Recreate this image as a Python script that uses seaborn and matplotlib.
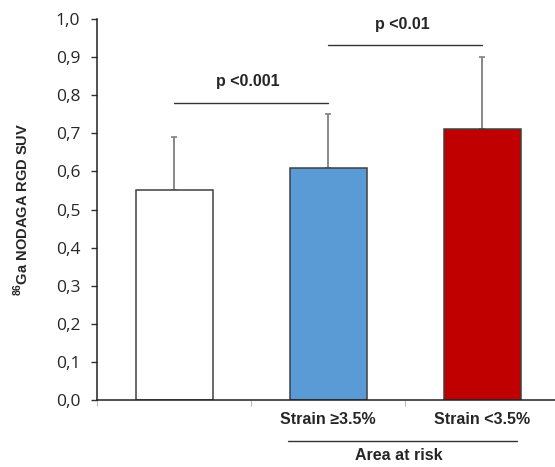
import matplotlib
matplotlib.use("Agg")
import matplotlib.pyplot as plt
import seaborn as sns
import numpy as np
import pandas as pd

# Group means and upper SD
groups = ["Remote", "Strain \u22653.5%", "Strain <3.5%"]
tick_labels = ["", "Strain \u22653.5%", "Strain <3.5%"]
suv_mean = [0.55, 0.61, 0.71]
suv_sd = [0.14, 0.14, 0.19]
bar_colors = ["#FFFFFF", "#5B9BD5", "#C00000"]
y_ticks = [0.0, 0.1, 0.2, 0.3, 0.4, 0.5, 0.6, 0.7, 0.8, 0.9, 1.0]
sig_pairs = [(0, 1, 0.78, "p <0.001"), (1, 2, 0.932, "p <0.01")]

sns.set_theme(style="ticks")
plt.rcParams["font.family"] = ["Liberation Sans", "DejaVu Sans"]
plt.rcParams["mathtext.fontset"] = "custom"
plt.rcParams["mathtext.rm"] = "Liberation Sans:bold"
plt.rcParams["mathtext.bf"] = "Liberation Sans:bold"

fig = plt.figure(figsize=(5.55, 4.67), dpi=100)
ax = fig.add_axes([97 / 555, 1 - 400 / 467, 462 / 555, 381 / 467])

df = pd.DataFrame({"group": groups, "suv": suv_mean})
sns.barplot(data=df, x="group", y="suv", hue="group", palette=bar_colors,
            order=groups, hue_order=groups, legend=False, errorbar=None,
            saturation=1, width=0.5, edgecolor="#404040", linewidth=1.1,
            ax=ax, zorder=2)

x = np.arange(len(groups))
ax.errorbar(x, suv_mean, yerr=[np.zeros(len(groups)), suv_sd], fmt="none",
            ecolor="#808080", elinewidth=1.3, capsize=2.5, capthick=1.2, zorder=1)

ax.set_xlim(-0.5, 2.5)
ax.set_ylim(0, 1.0)
ax.set_yticks(y_ticks)
ax.set_yticklabels([f"{v:.1f}".replace(".", ",") for v in y_ticks],
                   fontfamily="Open Sans", fontsize=12.5)
ax.tick_params(axis="y", length=4, width=1, color="#333333", pad=8)

ax.set_xticks(x)
ax.set_xticklabels(tick_labels, fontweight="bold", fontsize=11.5)
ax.tick_params(axis="x", length=0, pad=9)
ax.set_xticks([-0.5, 0.5, 1.5], minor=True)
ax.tick_params(axis="x", which="minor", length=4, width=0.8, color="#BBBBBB")
ax.set_xlabel("")
ax.set_ylabel(r"$^{86}$Ga NODAGA RGD SUV", fontweight="bold", fontsize=10.5, labelpad=18)

for side in ["top", "right"]:
    ax.spines[side].set_visible(False)
for side in ["left", "bottom"]:
    ax.spines[side].set_color("#222222")
    ax.spines[side].set_linewidth(1.1)

# Significance brackets
for i, j, yv, label in sig_pairs:
    ax.plot([i, j], [yv, yv], color="#333333", lw=1.0, clip_on=False)
    ax.text((i + j) / 2 - 0.02, yv + 0.035, label, ha="center", va="bottom",
            fontweight="bold", fontsize=11.5)

# Grouping line under the two strain categories
ax.plot([0.74, 2.23], [-0.1076, -0.1076], color="#333333", lw=1.0,
        clip_on=False, transform=ax.transData)
ax.text(1.46, -0.146, "Area at risk", ha="center", va="center",
        fontweight="bold", fontsize=11.5)

fig.savefig("out.png", dpi=100)
